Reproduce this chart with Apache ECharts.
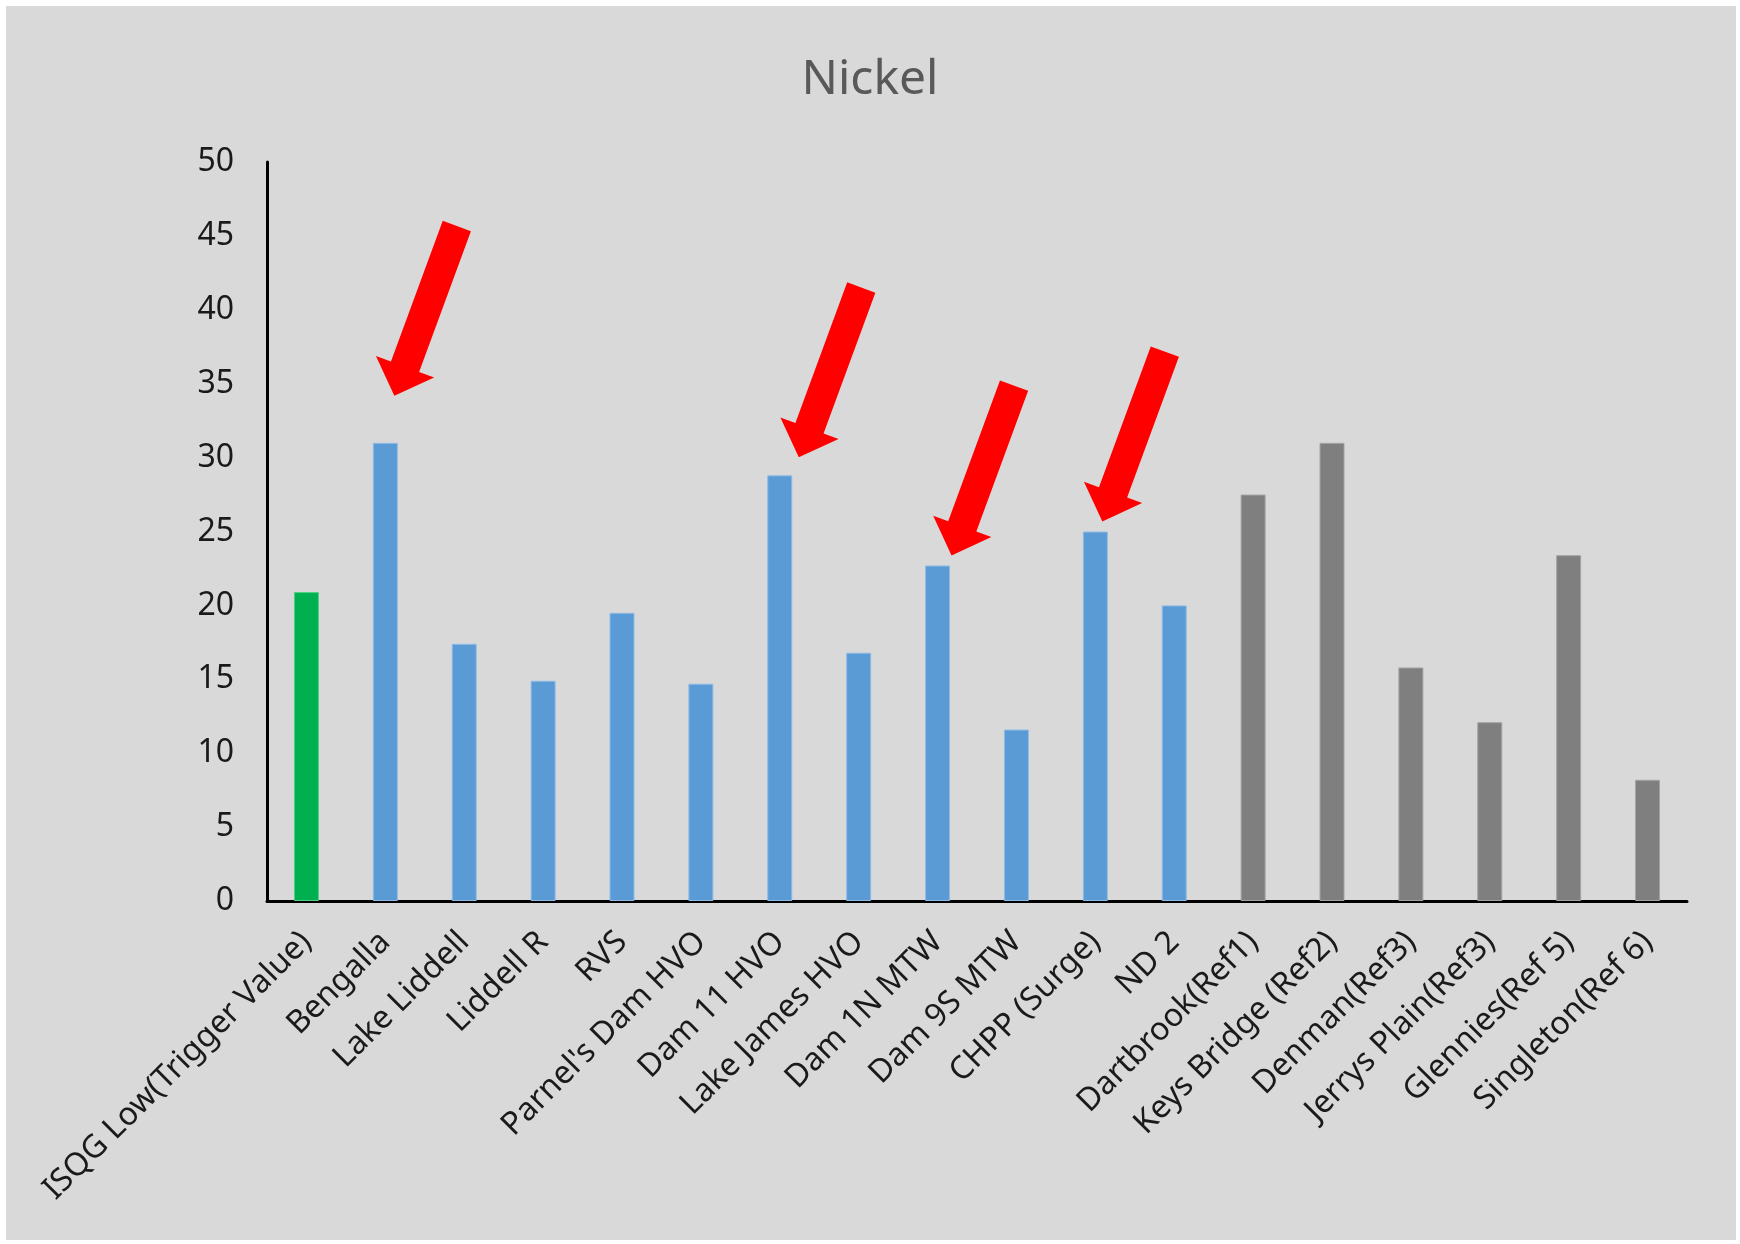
<!DOCTYPE html>
<html>
<head>
<meta charset="utf-8">
<script src="https://cdn.jsdelivr.net/npm/echarts@6/dist/echarts.min.js"></script>
<style>
  html, body { margin: 0; padding: 0; background: #ffffff; }
  #chart { width: 1740px; height: 1244px; }
</style>
</head>
<body>
<div id="chart"></div>
<script>
// Sampling sites (guideline first, then mine sites, then reference sites)
const categories = [
  'ISQG Low(Trigger Value)', 'Bengalla', 'Lake Liddell', 'Liddell R', 'RVS',
  "Parnel's Dam HVO", 'Dam 11 HVO', 'Lake James HVO', 'Dam 1N MTW', 'Dam 9S MTW',
  'CHPP (Surge)', 'ND 2', 'Dartbrook(Ref1)', 'Keys Bridge (Ref2)', 'Denman(Ref3)',
  'Jerrys Plain(Ref3)', 'Glennies(Ref 5)', 'Singleton(Ref 6)'
];

// Nickel concentration at each site
const nickelValues = [
  20.9, 31, 17.4, 14.9, 19.5,
  14.7, 28.8, 16.8, 22.7, 11.6,
  25, 20, 27.5, 31, 15.8,
  12.1, 23.4, 8.2
];

// Kind of each site: trigger value, mine site, reference site
const siteKinds = [
  'trigger', 'mine', 'mine', 'mine', 'mine',
  'mine', 'mine', 'mine', 'mine', 'mine',
  'mine', 'mine', 'reference', 'reference', 'reference',
  'reference', 'reference', 'reference'
];

// Sites flagged with a red arrow
const flaggedSites = ['Bengalla', 'Dam 11 HVO', 'Dam 1N MTW', 'CHPP (Surge)'];

// Value axis ticks
const yMin = 0, yMax = 50, yStep = 5;

const kindFill = { trigger: '#00b050', mine: '#5b9bd5', reference: '#7f7f7f' };
const kindEdge = { trigger: '#4fcf85', mine: '#8fbbe6', reference: '#a3a3a3' };

const FONT = '"Noto Sans", "Open Sans", sans-serif';

const chart = echarts.init(document.getElementById('chart'), null, { renderer: 'canvas' });

const barData = nickelValues.map((v, i) => ({
  value: v,
  itemStyle: {
    color: kindFill[siteKinds[i]],
    borderColor: kindEdge[siteKinds[i]],
    borderWidth: 1
  }
}));

chart.setOption({
  backgroundColor: '#ffffff',
  animation: false,
  title: {
    text: 'Nickel',
    left: 'center',
    top: 56,
    padding: 0,
    textStyle: { fontFamily: FONT, fontSize: 48, fontWeight: 'normal', color: '#595959' }
  },
  grid: { left: 267, right: 53, top: 162, bottom: 343, containLabel: false },
  xAxis: {
    type: 'category',
    data: categories,
    axisLine: { show: true, lineStyle: { color: '#000000', width: 3 } },
    axisTick: { show: false },
    axisLabel: {
      rotate: 45,
      interval: 0,
      margin: 36,
      fontFamily: FONT,
      fontSize: 32,
      color: '#1a1a1a'
    },
    splitLine: { show: false }
  },
  yAxis: {
    type: 'value',
    min: yMin,
    max: yMax,
    interval: yStep,
    axisLine: { show: true, lineStyle: { color: '#000000', width: 3 } },
    axisTick: { show: false },
    axisLabel: { margin: 33, fontFamily: FONT, fontSize: 32, color: '#1a1a1a' },
    splitLine: { show: false }
  },
  series: [{
    type: 'bar',
    data: barData,
    barWidth: 25,
    z: 2
  }]
});

// Block arrow pointing down-left, tip at (tx, ty)
function arrowPoints(tx, ty) {
  const len = 181, shaftHalf = 15, headHalf = 31, headLen = 31;
  const ang = 20.2 * Math.PI / 180;
  const d = [-Math.sin(ang), Math.cos(ang)];      // tail -> tip direction
  const p = [Math.cos(ang), Math.sin(ang)];       // perpendicular
  const base = [tx - headLen * d[0], ty - headLen * d[1]];
  const tail = [tx - len * d[0], ty - len * d[1]];
  return [
    [tx, ty],
    [base[0] - headHalf * p[0], base[1] - headHalf * p[1]],
    [base[0] - shaftHalf * p[0], base[1] - shaftHalf * p[1]],
    [tail[0] - shaftHalf * p[0], tail[1] - shaftHalf * p[1]],
    [tail[0] + shaftHalf * p[0], tail[1] + shaftHalf * p[1]],
    [base[0] + shaftHalf * p[0], base[1] + shaftHalf * p[1]],
    [base[0] + headHalf * p[0], base[1] + headHalf * p[1]]
  ];
}

// Tip offsets (px) from the top centre of each flagged bar
const arrowTipOffsets = {
  'Bengalla': [9, -47],
  'Dam 11 HVO': [19, -18],
  'Dam 1N MTW': [14, -10],
  'CHPP (Surge)': [7, -10]
};

const graphics = [{
  type: 'rect',
  z: -10,
  silent: true,
  shape: { x: 6, y: 6, width: 1730, height: 1234 },
  style: { fill: '#d9d9d9' }
}];

flaggedSites.forEach(name => {
  const i = categories.indexOf(name);
  const top = chart.convertToPixel({ seriesIndex: 0 }, [i, nickelValues[i]]);
  const off = arrowTipOffsets[name];
  graphics.push({
    type: 'polygon',
    z: 100,
    silent: true,
    shape: { points: arrowPoints(top[0] + off[0], top[1] + off[1]) },
    style: { fill: '#ff0000' }
  });
});

chart.setOption({ graphic: graphics });
</script>
</body>
</html>
